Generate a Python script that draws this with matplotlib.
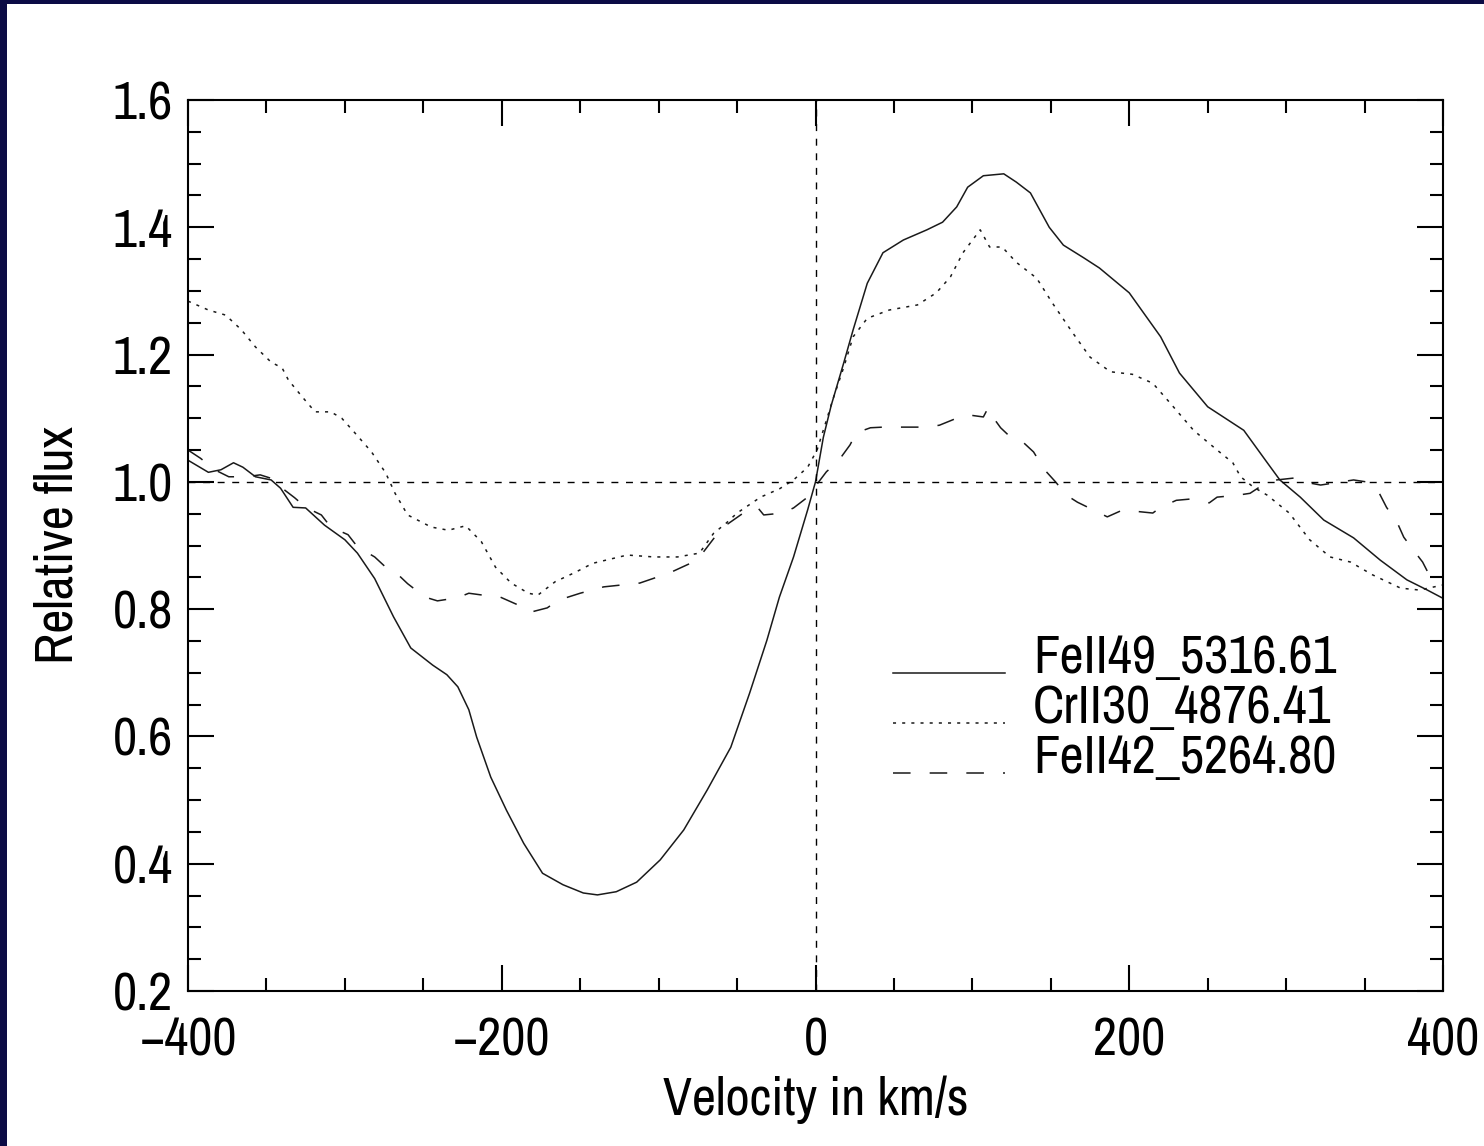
import numpy as np
import matplotlib
matplotlib.use("Agg")
import matplotlib.pyplot as plt
from matplotlib import font_manager
from matplotlib.lines import Line2D
from matplotlib.patches import Rectangle
from matplotlib.ticker import MultipleLocator

# --- data (velocity km/s, relative flux) ---
fe49_v = [-400, -387, -379, -371, -365, -357, -347, -341, -333, -325, -313, -300, -292, -281,
          -269, -258, -244, -235, -228, -221, -216, -207, -197, -186, -174, -161, -148, -139,
          -127, -114, -99, -84, -69, -54, -42, -31, -23, -14, -5, 0, 5, 10, 18, 24, 33, 43,
          56, 71, 81, 90, 97, 107, 120, 128, 137, 149, 158, 171, 181, 200, 220, 232, 250,
          273, 288, 296, 309, 324, 343, 360, 377, 390, 400]
fe49_f = [1.034, 1.015, 1.019, 1.030, 1.023, 1.008, 1.003, 0.990, 0.960, 0.959, 0.932, 0.909,
          0.888, 0.848, 0.788, 0.739, 0.712, 0.697, 0.678, 0.642, 0.599, 0.536, 0.484, 0.432,
          0.385, 0.367, 0.354, 0.351, 0.356, 0.371, 0.406, 0.453, 0.516, 0.583, 0.668, 0.751,
          0.819, 0.882, 0.956, 1.000, 1.070, 1.120, 1.187, 1.239, 1.312, 1.360, 1.380, 1.396,
          1.408, 1.432, 1.463, 1.481, 1.484, 1.471, 1.454, 1.400, 1.372, 1.352, 1.336, 1.297,
          1.228, 1.171, 1.118, 1.081, 1.030, 1.003, 0.976, 0.940, 0.912, 0.877, 0.846, 0.830,
          0.817]

cr30_v = [-400, -387, -376, -366, -357, -347, -340, -336, -327, -319, -309, -302, -294, -283,
          -274, -268, -260, -245, -234, -223, -213, -204, -194, -183, -177, -166, -153, -142,
          -120, -103, -88, -74, -65, -57, -50, -35, -23, -14, -5, 1, 7, 11, 18, 24, 33, 47,
          65, 77, 86, 94, 105, 111, 119, 128, 141, 151, 164, 175, 188, 202, 215, 226, 241,
          256, 266, 271, 279, 288, 302, 315, 328, 341, 355, 373, 385, 400]
cr30_f = [1.284, 1.270, 1.262, 1.239, 1.212, 1.188, 1.179, 1.160, 1.133, 1.110, 1.110, 1.100,
          1.078, 1.047, 1.014, 0.982, 0.948, 0.929, 0.924, 0.931, 0.906, 0.866, 0.841, 0.825,
          0.822, 0.843, 0.858, 0.872, 0.885, 0.882, 0.882, 0.888, 0.919, 0.935, 0.951, 0.976,
          0.989, 1.003, 1.023, 1.050, 1.097, 1.129, 1.180, 1.228, 1.257, 1.270, 1.278, 1.297,
          1.322, 1.360, 1.396, 1.369, 1.369, 1.345, 1.320, 1.281, 1.234, 1.196, 1.173, 1.169,
          1.155, 1.124, 1.081, 1.050, 1.030, 1.008, 0.992, 0.979, 0.951, 0.909, 0.882, 0.874,
          0.854, 0.833, 0.830, 0.838]

fe42_v = [-400, -392, -383, -374, -363, -354, -345, -341, -332, -325, -315, -309, -298, -292,
          -281, -274, -266, -260, -249, -241, -228, -221, -209, -201, -190, -182, -171, -164,
          -150, -135, -112, -93, -78, -72, -63, -57, -46, -37, -33, -21, -14, -5, -1, 7, 14,
          22, 26, 35, 43, 56, 71, 79, 92, 98, 107, 110, 113, 118, 124, 132, 139, 146, 153,
          160, 167, 177, 186, 196, 207, 215, 220, 230, 239, 251, 256, 269, 277, 285, 294,
          305, 311, 322, 330, 343, 351, 359, 364, 371, 375, 382, 387, 392, 400]
fe42_f = [1.050, 1.037, 1.019, 1.008, 1.008, 1.011, 1.004, 0.992, 0.975, 0.960, 0.948, 0.929,
          0.917, 0.898, 0.882, 0.866, 0.854, 0.840, 0.819, 0.813, 0.818, 0.825, 0.821, 0.819,
          0.807, 0.795, 0.802, 0.814, 0.825, 0.835, 0.841, 0.857, 0.874, 0.888, 0.917, 0.932,
          0.951, 0.960, 0.948, 0.951, 0.959, 0.976, 0.990, 1.016, 1.031, 1.058, 1.077, 1.085,
          1.086, 1.086, 1.086, 1.089, 1.102, 1.105, 1.102, 1.116, 1.102, 1.085, 1.071, 1.063,
          1.047, 1.019, 1.000, 0.979, 0.968, 0.956, 0.945, 0.956, 0.953, 0.951, 0.960, 0.971,
          0.973, 0.967, 0.976, 0.979, 0.982, 0.995, 1.003, 1.006, 1.000, 0.995, 0.998, 1.003,
          1.000, 0.984, 0.960, 0.935, 0.913, 0.890, 0.874, 0.850, 0.849]

labels = ["FeII49_5316.61", "CrII30_4876.41", "FeII42_5264.80"]

# --- font: narrow Helvetica look, first one that exists ---
names = {f.name for f in font_manager.fontManager.ttflist}
fam = "Liberation Sans"
for cand in ["Liberation Sans Narrow", "Nimbus Sans Narrow", "Arial Narrow",
             "Archivo Narrow", "PT Sans Narrow", "Roboto Condensed"]:
    if cand in names:
        fam = cand
        break
plt.rcParams['font.family'] = [fam, 'DejaVu Sans']
fs = 38

fig = plt.figure(figsize=(14.84, 11.46), dpi=100, facecolor='#0b0b45')
fig.patches.append(Rectangle((7 / 1484, 0), 1, 1 - 4 / 1146, transform=fig.transFigure,
                             facecolor='white', edgecolor='none', zorder=-1))
ax = fig.add_axes([188 / 1484, 155 / 1146, 1255 / 1484, 891 / 1146])
ax.set_facecolor('white')

lw = 1.1
col = '#1a1a1a'
ax.plot(fe49_v, fe49_f, color=col, lw=lw, ls='-')
ax.plot(cr30_v, cr30_f, color=col, lw=lw, dashes=(2.0, 4.0))
ax.plot(fe42_v, fe42_f, color=col, lw=lw, dashes=(11.5, 12.5))
ax.axhline(1.0, color='black', lw=1.0, dashes=(5, 5.5))
ax.axvline(0.0, color='black', lw=1.0, dashes=(5, 5.5))

ax.set_xlim(-400, 400)
ax.set_ylim(0.2, 1.6)
ax.xaxis.set_minor_locator(MultipleLocator(50))
ax.yaxis.set_minor_locator(MultipleLocator(0.05))
ax.set_yticks(np.arange(0.2, 1.61, 0.2))
ax.set_yticklabels([f"{t:.1f}" for t in np.arange(0.2, 1.61, 0.2)])
ax.set_xticks([-400, -200, 0, 200, 400])
ax.set_xticklabels(["\u2212400", "\u2212200", "0", "200", "400"])

for s in ax.spines.values():
    s.set_linewidth(1.5)
ax.tick_params(which='both', direction='in', top=True, right=True, width=1.5,
               labelsize=fs, colors='black')
ax.tick_params(which='major', length=19)
ax.tick_params(which='minor', length=9.5)
ax.tick_params(axis='y', pad=11)
ax.tick_params(axis='x', pad=18)

ax.set_xlabel("Velocity in km/s", fontsize=fs, labelpad=8)
ax.set_ylabel("Relative flux", fontsize=fs, labelpad=22)

# --- legend drawn by hand, lines sit on text baselines ---
leg_y = [0.357, 0.3008, 0.2447]
styles = [dict(ls='-'), dict(dashes=(2.0, 4.0)), dict(dashes=(11.5, 12.5))]
for yy, lab, st in zip(leg_y, labels, styles):
    ax.add_line(Line2D([0.5618, 0.651], [yy, yy], transform=ax.transAxes,
                       color=col, lw=lw, **st))
    ax.text(0.6733, yy, lab, transform=ax.transAxes, fontsize=fs,
            ha='left', va='baseline')

fig.savefig("out.png", dpi=100, facecolor=fig.get_facecolor())
